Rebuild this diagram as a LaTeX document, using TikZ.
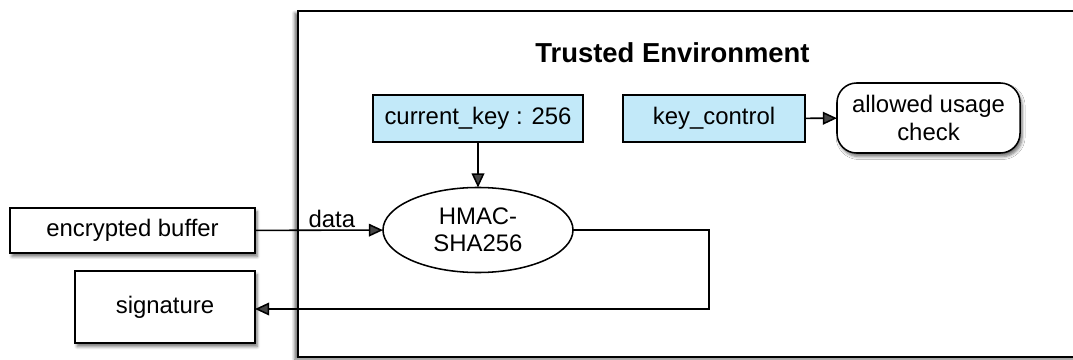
\documentclass[tikz,border=0pt]{standalone}
\usepackage{fontspec}
\setmainfont{Liberation Sans}
\usepackage{tikz}
\usetikzlibrary{positioning,arrows.meta,shapes.geometric,shadows.blur}

\definecolor{keyblue}{HTML}{C2E9F9}

\begin{document}
\begin{tikzpicture}[x=0.025cm, y=-0.025cm,
    every node/.style={font=\fontsize{17}{19.5}\selectfont, align=center, inner sep=0pt, outer sep=0pt},
    box/.style={draw, line width=1.1pt, fill=white, blur shadow={shadow xshift=1.5pt, shadow yshift=-2.5pt, shadow blur steps=5, shadow opacity=55}},
    keybox/.style={draw, line width=1.1pt, fill=keyblue, minimum height=1.175cm},
    flow/.style={line width=1.1pt, -{Triangle[length=10pt, width=9pt]}}]
    \clip (0,0) rectangle (1073,360);

    % trusted environment frame
    \draw[line width=1.1pt, fill=white, blur shadow={shadow xshift=-2.5pt, shadow yshift=-1.5pt, shadow blur steps=5, shadow opacity=55}]
        (298,11) rectangle (1090,357);
    \node (title) at (672.5,53) {\fontsize{19.5}{22}\selectfont\bfseries Trusted Environment};

    \node (curkey) [keybox, minimum width=5.25cm] at (478,118.5) {current\_key : 256};
    \node (keyctl) [keybox, minimum width=4.55cm] at (714,118.5) {key\_control};
    \node (usage) [box, rounded corners=14pt, minimum width=4.575cm, minimum height=1.75cm] at (928.5,118) {allowed usage\\check};
    \node (hmac) [draw, line width=1.1pt, ellipse, fill=white, minimum width=4.75cm, minimum height=2.125cm] at (478,230) {HMAC-\\SHA256};

    \node (encbuf) [box, minimum width=6.125cm, minimum height=1.125cm] at (132.5,230.5) {encrypted buffer};
    \node (sig) [box, minimum width=4.5cm, minimum height=1.8cm] at (165,307) {signature};
    \coordinate (turn) at (709,309);

    \draw[flow] (curkey) -- (hmac);
    \draw[flow] (keyctl) -- (usage);
    \draw[flow] (encbuf) -- node[above, pos=0.6, yshift=2pt] (data) {data} (hmac);
    \draw[flow] (hmac.east) -- (hmac.east -| turn) -- (turn) -- (sig.east |- turn);
\end{tikzpicture}
\end{document}
